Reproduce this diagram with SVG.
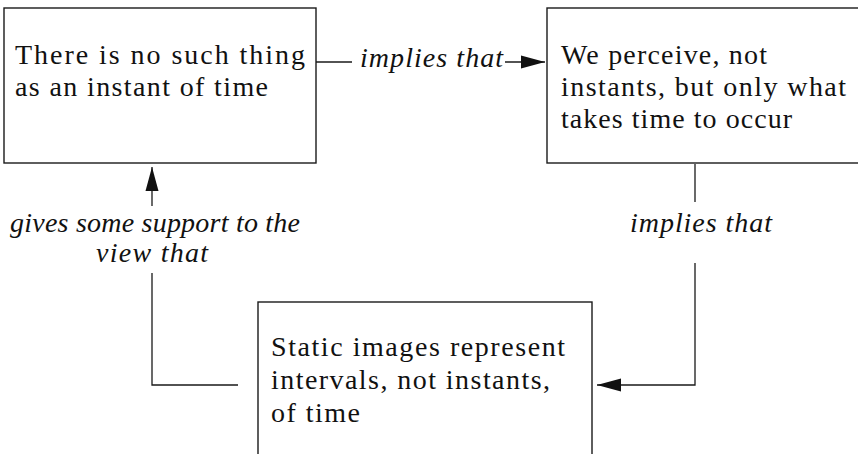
<svg xmlns="http://www.w3.org/2000/svg" width="858" height="454" viewBox="0 0 858 454">
<defs>
<style>
.box{fill:#fff;stroke:#1a1a1a;stroke-width:1.4}
.t{font-family:"Liberation Serif","Times New Roman",serif;font-size:28px;fill:#111}
.l{font-family:"Liberation Serif","Times New Roman",serif;font-size:28px;font-style:italic;fill:#111}
.c{fill:none;stroke:#1a1a1a;stroke-width:1.3}
</style>
<marker id="ah" markerUnits="userSpaceOnUse" markerWidth="26" markerHeight="16" refX="24" refY="7" orient="auto">
<path d="M0,0.5 L24,7 L0,13.5 z" fill="#111"/>
</marker>
</defs>
<rect width="858" height="454" fill="#fff"/>
<g id="node-no-instant">
<rect class="box" x="4" y="8" width="312" height="155"/>
<text class="t" x="15" y="64" textLength="290" lengthAdjust="spacing">There is no such thing</text>
<text class="t" x="15" y="96" textLength="253" lengthAdjust="spacing">as an instant of time</text>
</g>
<g id="node-perceive">
<rect class="box" x="547" y="8" width="320" height="155"/>
<text class="t" x="561" y="64" textLength="206" lengthAdjust="spacing">We perceive, not</text>
<text class="t" x="561" y="96" textLength="285" lengthAdjust="spacing">instants, but only what</text>
<text class="t" x="561" y="128" textLength="231" lengthAdjust="spacing">takes time to occur</text>
</g>
<g id="node-static">
<rect class="box" x="258" y="302" width="334" height="170"/>
<text class="t" x="271" y="356" textLength="294" lengthAdjust="spacing">Static images represent</text>
<text class="t" x="271" y="389" textLength="279" lengthAdjust="spacing">intervals, not instants,</text>
<text class="t" x="271" y="422" textLength="89" lengthAdjust="spacing">of time</text>
</g>
<g id="connectors">
<line class="c" x1="316" y1="62" x2="352" y2="62"/>
<text class="l" x="360" y="67" textLength="143" lengthAdjust="spacing">implies that</text>
<line class="c" x1="505" y1="62" x2="545" y2="62" marker-end="url(#ah)"/>
<line class="c" x1="695" y1="164" x2="695" y2="202"/>
<text class="l" x="701" y="232" text-anchor="middle" textLength="142" lengthAdjust="spacing">implies that</text>
<polyline class="c" points="695,263 695,385 597,385" marker-end="url(#ah)"/>
<polyline class="c" points="238,385 152,385 152,273"/>
<text class="l" x="155" y="232" text-anchor="middle" textLength="290" lengthAdjust="spacing">gives some support to the</text>
<text class="l" x="152" y="262" text-anchor="middle" textLength="112" lengthAdjust="spacing">view that</text>
<line class="c" x1="152" y1="206" x2="152" y2="167" marker-end="url(#ah)"/>
</g>
</svg>
